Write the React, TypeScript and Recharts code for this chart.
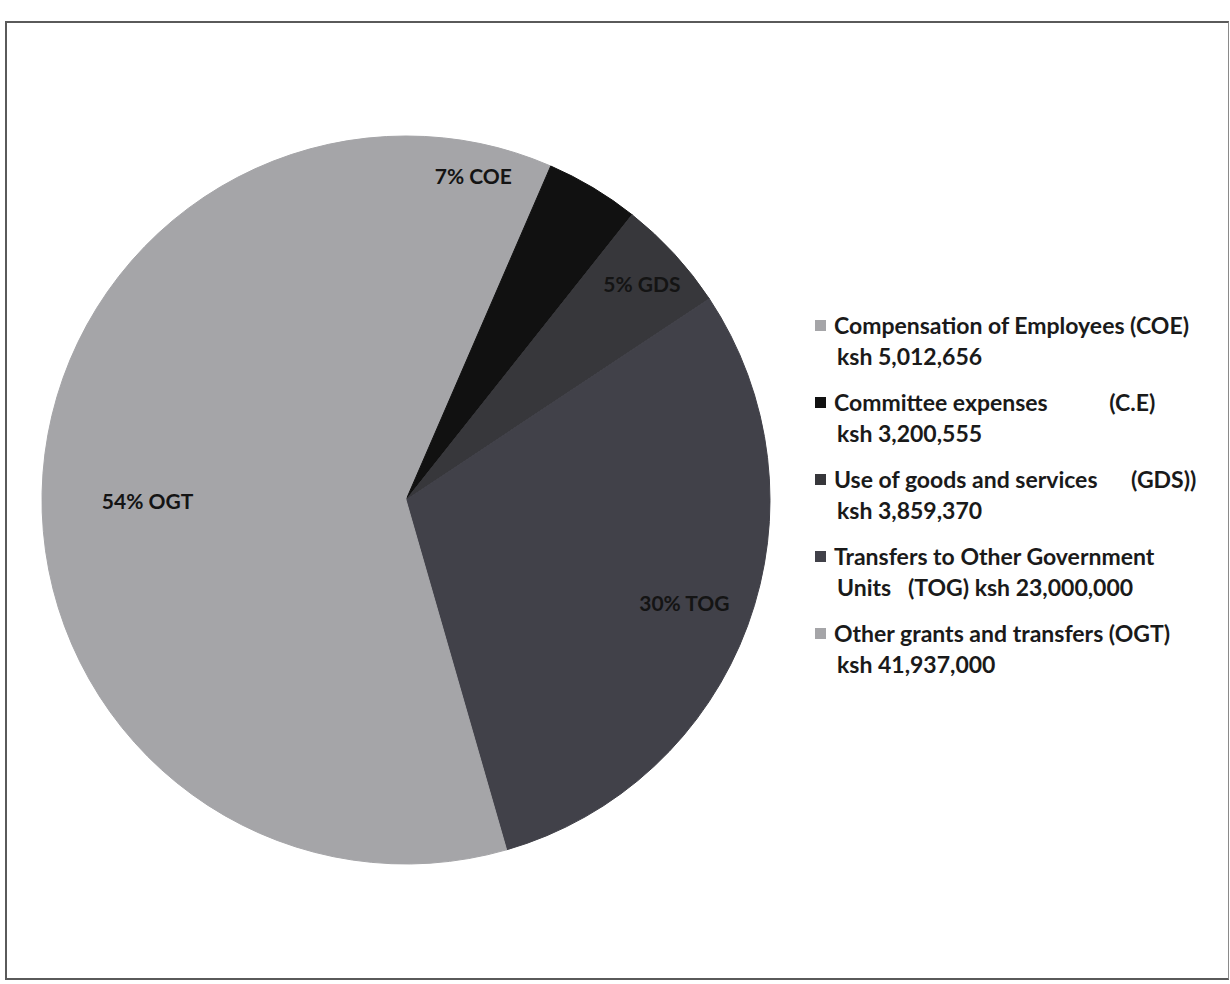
import React from "react";
import { PieChart, Pie, Cell, Legend } from "recharts";

const codes = ["COE", "C.E", "GDS", "TOG", "OGT"];
const names = [
  "Compensation of Employees (COE)",
  "Committee expenses           (C.E)",
  "Use of goods and services      (GDS))",
  "Transfers to Other Government",
  "Other grants and transfers (OGT)",
];
const amounts = ["ksh 5,012,656", "ksh 3,200,555", "ksh 3,859,370", "Units   (TOG) ksh 23,000,000", "ksh 41,937,000"];
const values = [5012656, 3200555, 3859370, 23000000, 41937000];
const pctLabels = ["7% COE", "", "5% GDS", "30% TOG", "54% OGT"];
const colors = ["#a5a5a8", "#111111", "#37373b", "#414149", "#a5a5a8"];

const data = codes.map((c, i) => ({ code: c, name: names[i], value: values[i], amount: amounts[i], pct: pctLabels[i] }));

const RAD = Math.PI / 180;
// radial position of each label, as a fraction of the radius, and a small angle tweak
const labelR = [0.91, 0.85, 0.88, 0.815, 0.71];
const labelA = [0, 0, 0, 0, -8];

function renderLabel(p: any) {
  const i = p.index;
  if (!pctLabels[i]) return null;
  const a = (p.midAngle + labelA[i]) * RAD;
  const r = p.outerRadius * labelR[i];
  const x = p.cx + r * Math.cos(a);
  const y = p.cy - r * Math.sin(a);
  return (
    <text x={x} y={y} textAnchor="middle" dominantBaseline="central" fill="#141414"
      style={{ fontFamily: "Lato, 'Open Sans', sans-serif", fontSize: 21, fontWeight: 700, whiteSpace: "pre" }}>
      {pctLabels[i]}
    </text>
  );
}

function LegendBox() {
  return (
    <div style={{ fontFamily: "Lato, 'Open Sans', sans-serif", fontSize: 23, fontWeight: 700, color: "#1a1a1a" }}>
      {data.map((d, i) => (
        <div key={d.code} style={{ marginBottom: 15, lineHeight: "31px" }}>
          <div style={{ display: "flex", alignItems: "center", whiteSpace: "pre" }}>
            <span style={{ display: "inline-block", width: 11, height: 11, background: colors[i], marginRight: 8 }} />
            {d.name}
          </div>
          <div style={{ paddingLeft: 22, whiteSpace: "pre" }}>{d.amount}</div>
        </div>
      ))}
    </div>
  );
}

export default function App() {
  return (
    <div style={{ position: "absolute", left: 0, top: 0, width: 1230, height: 984, background: "#fff" }}>
      <div style={{ position: "absolute", left: 5, top: 21, width: 1221, height: 955, border: "2px solid #5a5a5a", borderRight: "1px solid #8a8a8a" }} />
      <PieChart width={1230} height={984} margin={{ top: 0, right: 0, bottom: 0, left: 0 }}
        style={{ position: "absolute", left: 0, top: 0 }}>
        <Pie data={data} dataKey="value" nameKey="code" cx={406} cy={500} outerRadius={364} innerRadius={0}
          startAngle={90} endAngle={-270} label={renderLabel} labelLine={false} isAnimationActive={false}>
          {data.map((d, i) => <Cell key={d.code} fill={colors[i]} stroke={colors[i]} strokeWidth={1} />)}
        </Pie>
        <Legend layout="vertical" align="right" verticalAlign="top" content={LegendBox}
          wrapperStyle={{ left: 815, top: 310, width: 415 }} />
      </PieChart>
    </div>
  );
}
